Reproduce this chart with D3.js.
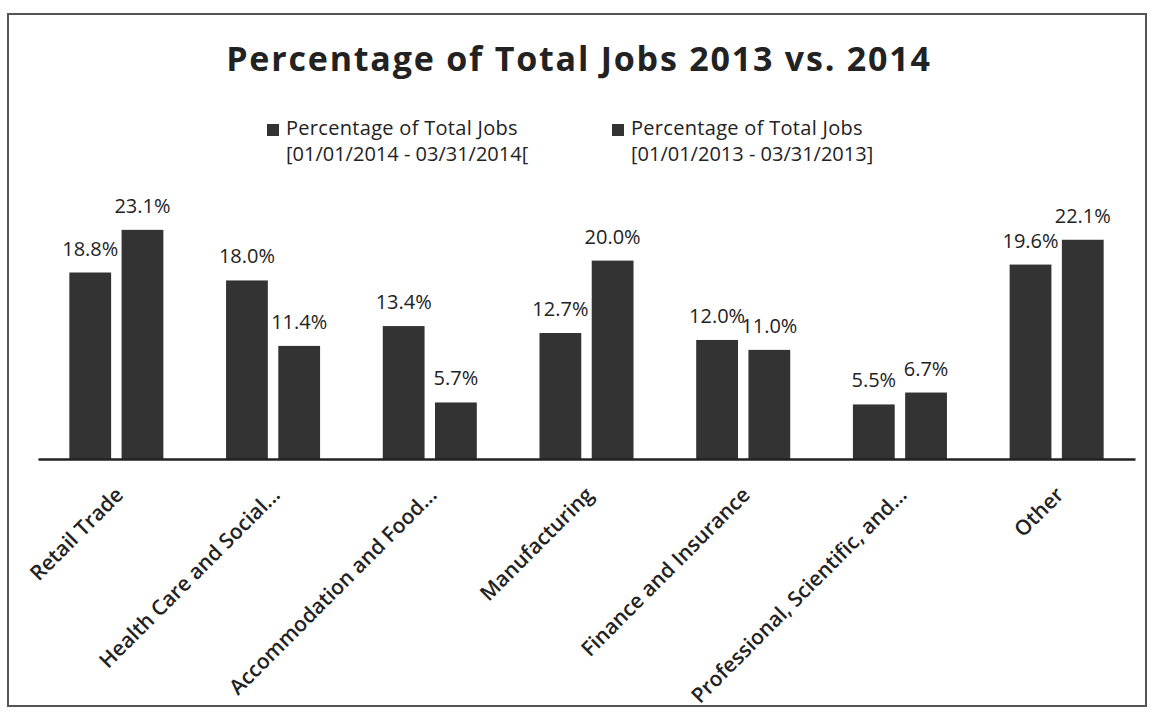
<!DOCTYPE html>
<meta charset="utf-8">
<html>
<head>
<title>Percentage of Total Jobs</title>
<style>
  body { margin: 0; background: #fff; }
  text { font-family: "Open Sans", sans-serif; fill: #222; }
</style>
</head>
<body>
<svg width="1154" height="712"></svg>
<script src="https://d3js.org/d3.v7.min.js"></script>
<script>
// chart data
var categories = ["Retail Trade", "Health Care and Social...", "Accommodation and Food...",
  "Manufacturing", "Finance and Insurance", "Professional, Scientific, and...", "Other"];
var series = ["2014", "2013"];
var legendLines = [
  ["Percentage of Total Jobs", "[01/01/2014 - 03/31/2014["],
  ["Percentage of Total Jobs", "[01/01/2013 - 03/31/2013]"]
];
var jobs2014 = [18.8, 18.0, 13.4, 12.7, 12.0, 5.5, 19.6];
var jobs2013 = [23.1, 11.4, 5.7, 20.0, 11.0, 6.7, 22.1];

var svg = d3.select("svg");
var baseline = 459;

// border round the chart
svg.append("rect")
  .attr("x", 8).attr("y", 14)
  .attr("width", 1138).attr("height", 692)
  .attr("fill", "none").attr("stroke", "#555").attr("stroke-width", 2);

svg.append("text")
  .attr("x", 579).attr("y", 71)
  .attr("text-anchor", "middle")
  .style("font-size", "34px").style("font-weight", 700)
  .style("letter-spacing", "1.8px")
  .text("Percentage of Total Jobs 2013 vs. 2014");

// legend
var legendX = [267, 612];
legendLines.forEach(function(lines, i) {
  var lg = svg.append("g").attr("transform", "translate(" + legendX[i] + ",0)");
  lg.append("rect").attr("x", 0).attr("y", 124).attr("width", 12).attr("height", 12).attr("fill", "#333");
  lg.append("text").attr("x", 19).attr("y", 135).style("font-size", "20px").style("font-weight", 500)
    .style("letter-spacing", "0.3px").text(lines[0]);
  lg.append("text").attr("x", 19).attr("y", 161).style("font-size", "20px").style("font-weight", 500)
    .text(lines[1]);
});

var x0 = d3.scaleBand()
  .domain(categories)
  .range([38, 1135])
  .paddingInner(0.4)
  .paddingOuter(0.2);

var x1 = d3.scaleBand()
  .domain(series)
  .range([0, x0.bandwidth()])
  .paddingInner(0.2);

var y = d3.scaleLinear()
  .domain([0, 25])
  .range([baseline, baseline - 248]);

var rows = categories.map(function(c, i) {
  return { cat: c, vals: [{ s: "2014", v: jobs2014[i] }, { s: "2013", v: jobs2013[i] }] };
});

var groups = svg.selectAll("g.grp")
  .data(rows)
  .enter().append("g")
  .attr("class", "grp")
  .attr("transform", function(d) { return "translate(" + x0(d.cat) + ",0)"; });

groups.selectAll("rect")
  .data(function(d) { return d.vals; })
  .enter().append("rect")
  .attr("x", function(d) { return x1(d.s); })
  .attr("y", function(d) { return y(d.v); })
  .attr("width", x1.bandwidth())
  .attr("height", function(d) { return baseline - y(d.v); })
  .attr("fill", "#333");

groups.selectAll("text")
  .data(function(d) { return d.vals; })
  .enter().append("text")
  .attr("x", function(d) { return x1(d.s) + x1.bandwidth() / 2; })
  .attr("y", function(d) { return y(d.v) - 17; })
  .attr("text-anchor", "middle")
  .style("font-size", "20px")
  .style("font-weight", 500)
  .text(function(d) { return d.v.toFixed(1) + "%"; });

// category axis
var axis = svg.append("g")
  .attr("transform", "translate(0," + baseline + ")")
  .call(d3.axisBottom(x0).tickSize(0).tickSizeOuter(0));
axis.select(".domain").attr("stroke", "#222").attr("stroke-width", 2.5);
axis.selectAll(".tick text")
  .style("font-family", "'Open Sans', sans-serif")
  .style("font-size", "21px")
  .style("font-weight", 600)
  .attr("fill", "#222")
  .attr("text-anchor", "end")
  .attr("dy", "0.35em")
  .attr("y", 0)
  .attr("transform", "translate(3,32) rotate(-45)");
</script>
</body>
</html>
